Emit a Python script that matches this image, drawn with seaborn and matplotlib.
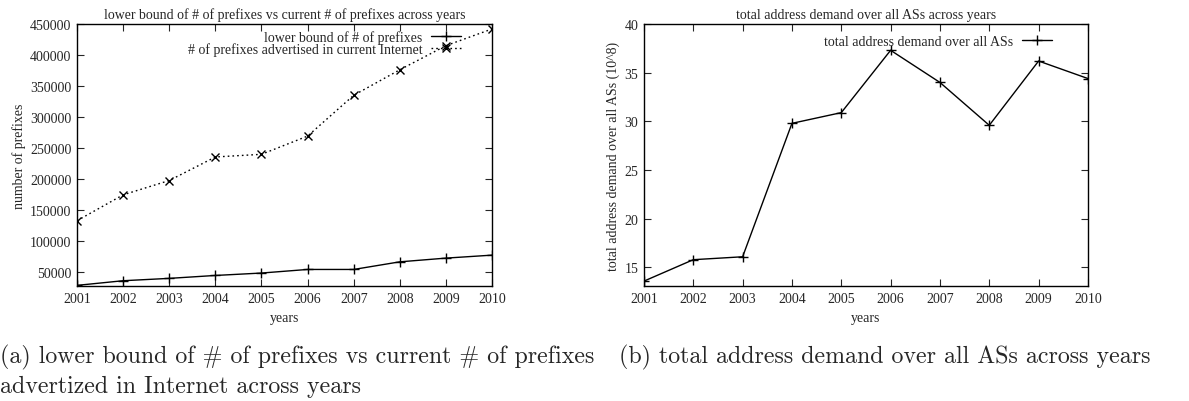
import matplotlib
matplotlib.use("Agg")
import matplotlib.pyplot as plt
import seaborn as sns

# data
years = [2001, 2002, 2003, 2004, 2005, 2006, 2007, 2008, 2009, 2010]
lower_bound = [28000, 35500, 39300, 44000, 47900, 53700, 53700, 66000, 72000, 76800]
advertised = [132400, 174200, 197300, 235300, 239600, 269000, 334900, 376100, 415000, 442000]
demand = [13.6, 15.8, 16.1, 29.8, 30.9, 37.3, 34.0, 29.6, 36.2, 34.4]

sns.set_style("ticks")
plt.rcParams['font.family'] = ['Liberation Serif', 'DejaVu Serif']

fig = plt.figure(figsize=(11.89, 4.02), dpi=100)
ax1 = fig.add_axes([0.0648, 0.2861, 0.3490, 0.6517])
ax2 = fig.add_axes([0.5416, 0.2861, 0.3734, 0.6517])

fs = 10
mk = dict(color='black', linewidth=1, markeredgecolor='black', markeredgewidth=1)

# left panel
sns.lineplot(x=years, y=lower_bound, ax=ax1, marker='+', markersize=7,
             label='lower bound of # of prefixes', **mk)
sns.lineplot(x=years, y=advertised, ax=ax1, linestyle=(0, (1.2, 2.2)),
             marker='x', markersize=5.5,
             label='# of prefixes advertised in current Internet', **mk)
ax1.set_xlim(2001, 2010)
ax1.set_ylim(27000, 450000)
ax1.set_yticks(range(50000, 450001, 50000))
ax1.set_ylabel('number of prefixes', fontsize=fs, labelpad=3)
ax1.set_title('lower bound of # of prefixes vs current # of prefixes across years',
              fontsize=fs, pad=4)
ax1.legend(loc='upper right', bbox_to_anchor=(0.943, 1.004), frameon=False,
           markerfirst=False, fontsize=fs, handlelength=2.2, handletextpad=0.6,
           labelspacing=-0.1, borderpad=0)

# right panel
sns.lineplot(x=years, y=demand, ax=ax2, marker='+', markersize=7,
             label='total address demand over all ASs', **mk)
ax2.set_xlim(2001, 2010)
ax2.set_ylim(13.1, 40)
ax2.set_yticks(range(15, 41, 5))
ax2.set_ylabel('total address demand over all ASs (10^8)', fontsize=fs, labelpad=3)
ax2.set_title('total address demand over all ASs across years', fontsize=fs, pad=4)
ax2.legend(loc='upper right', bbox_to_anchor=(0.935, 0.984), frameon=False,
           markerfirst=False, fontsize=fs, handlelength=2.2, handletextpad=0.6,
           borderpad=0)

for ax in (ax1, ax2):
    ax.set_xticks(years)
    ax.set_xlabel('years', fontsize=fs, labelpad=5)
    ax.tick_params(direction='in', top=True, right=True, length=5, width=0.8,
                   labelsize=fs, pad=4)
    for sp in ax.spines.values():
        sp.set_visible(True)
        sp.set_linewidth(1)
        sp.set_color('black')

# subfigure captions (LaTeX-like look)
cap = 17.2
capfont = ['cmr10', 'DejaVu Serif']
fig.text(0.0, 0.11, '(a) lower bound of # of prefixes vs current # of prefixes',
         fontsize=cap, va='center', ha='left', family=capfont)
fig.text(0.0, 0.038, 'advertized in Internet across years',
         fontsize=cap, va='center', ha='left', family=capfont)
fig.text(0.5206, 0.11, '(b) total address demand over all ASs across years',
         fontsize=cap, va='center', ha='left', family=capfont)

fig.savefig('out.png', dpi=100)
